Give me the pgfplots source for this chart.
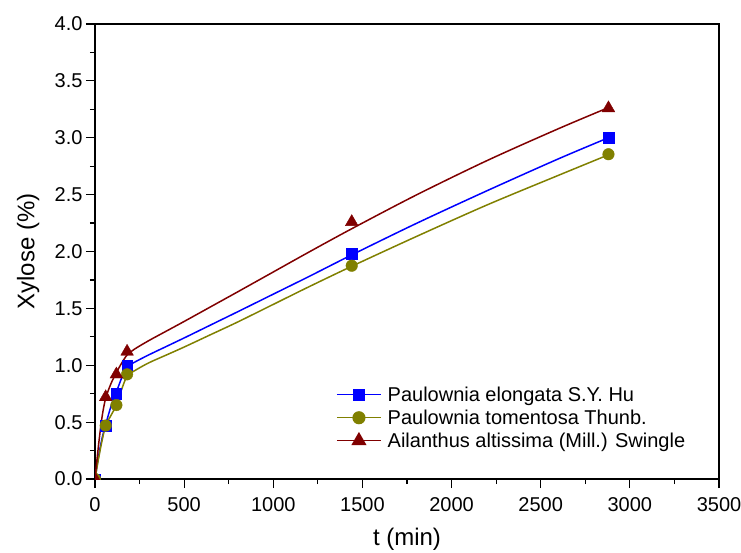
\documentclass[border=0pt]{standalone}
\usepackage{pgfplots}
\pgfplotsset{compat=1.18}
\usepackage{fontspec}
\setmainfont{Liberation Sans}
\definecolor{cblue}{RGB}{0,0,255}
\definecolor{colive}{RGB}{128,128,0}
\definecolor{cred}{RGB}{128,0,0}
\begin{document}
\begin{tikzpicture}
\useasboundingbox (0pt,0pt) rectangle (741pt,552pt);
\begin{axis}[
  at={(95pt,73pt)}, anchor=south west,
  width=624pt, height=455pt, scale only axis,
  xmin=0, xmax=3500, ymin=0, ymax=4,
  xtick distance=500, ytick distance=0.5,
  minor x tick num=1, minor y tick num=1,
  tick pos=left, tick align=outside,
  major tick length=9pt, minor tick length=5pt,
  every tick/.style={black, line width=1.2pt},
  axis line style={line width=1.4pt},
  /pgf/number format/assume math mode=true,
  tick label style={font=\fontsize{20}{24}\selectfont},
  x tick label style={/pgf/number format/1000 sep={}, yshift=-6pt},
  y tick label style={/pgf/number format/.cd, fixed, fixed zerofill, precision=1},
  xlabel={t (min)}, ylabel={Xylose (\%)},
  label style={font=\fontsize{24}{28}\selectfont},
  xlabel style={at={(axis description cs:0.5,-0.132)}, anchor=center},
  ylabel style={at={(axis description cs:-0.107,0.5)}, anchor=center},
  clip marker paths=true,
  legend style={draw=none, fill=none, at={(0.383,0.212)}, anchor=north west,
    font=\fontsize{20}{24}\selectfont, row sep=3pt, inner sep=2pt},
  legend cell align=left,
  legend image code/.code={\draw[mark repeat=2,mark phase=2,#1] plot coordinates {(0pt,0pt) (22pt,0pt) (44pt,0pt)}; \path (48pt,0pt);},
]
\addlegendimage{cblue, line width=1.5pt, mark=square*, mark size=5.3pt, mark options={solid, fill=cblue}}
\addlegendentry{Paulownia elongata S.Y. Hu}
\addlegendimage{colive, line width=1.5pt, mark=*, mark size=5.8pt, mark options={solid, fill=colive}}
\addlegendentry{Paulownia tomentosa Thunb.}
\addlegendimage{cred, line width=1.5pt, mark=triangle*, mark size=7.3pt, mark options={solid, fill=cred}}
\addlegendentry{Ailanthus altissima (Mill.) Swingle}

% fitted curves
\addplot[cblue, line width=1.5pt, smooth, forget plot] coordinates {
(0,0) (20,0.2) (40,0.36) (60,0.48) (90,0.64) (120,0.765) (150,0.89) (180,0.985) (220,1.025) (300,1.09) (400,1.165) (500,1.24) (650,1.355) (800,1.47) (1000,1.625) (1200,1.78) (1440,1.97) (1800,2.245) (2200,2.535) (2600,2.815) (2880,3.0)};
\addplot[colive, line width=1.5pt, smooth, forget plot] coordinates {
(0,0) (20,0.18) (40,0.34) (60,0.47) (90,0.56) (120,0.65) (150,0.79) (180,0.905) (220,0.95) (300,1.02) (400,1.09) (500,1.16) (650,1.27) (800,1.38) (1000,1.535) (1200,1.69) (1440,1.87) (1800,2.13) (2200,2.41) (2600,2.67) (2880,2.85)};
\addplot[cred, line width=1.5pt, smooth, forget plot] coordinates {
(0,0) (20,0.3) (40,0.55) (60,0.71) (90,0.84) (120,0.935) (150,1.02) (180,1.09) (220,1.14) (300,1.215) (400,1.3) (500,1.385) (650,1.515) (800,1.645) (1000,1.82) (1200,1.995) (1440,2.2) (1800,2.495) (2200,2.80) (2600,3.08) (2880,3.265)};

% measured points
\addplot[only marks, mark=square*, mark size=5.3pt, color=cblue, fill=cblue, forget plot] coordinates {
(0,0) (60,0.47) (120,0.75) (180,1.0) (1440,1.98) (2880,3.0)};
\addplot[only marks, mark=*, mark size=5.8pt, color=colive, fill=colive, forget plot] coordinates {
(0,0) (60,0.47) (120,0.65) (180,0.92) (1440,1.875) (2880,2.855)};
\addplot[only marks, mark=triangle*, mark size=7.3pt, color=cred, fill=cred, forget plot] coordinates {
(0,0) (60,0.72) (120,0.92) (180,1.12) (1440,2.26) (2880,3.26)};
\end{axis}
\end{tikzpicture}
\end{document}
